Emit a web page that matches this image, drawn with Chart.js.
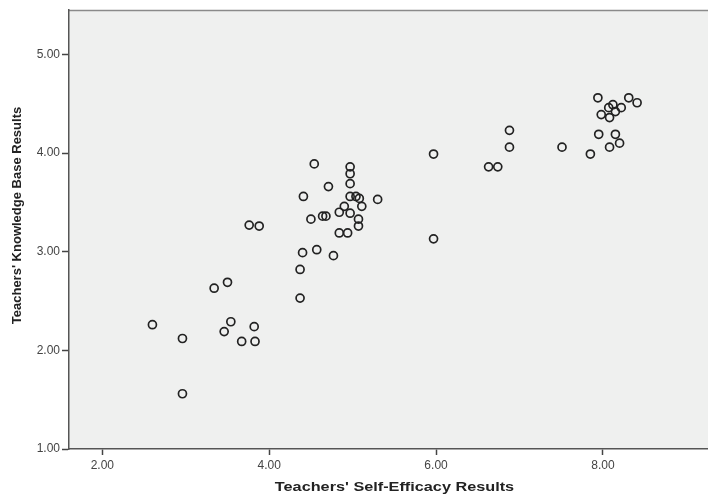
<!DOCTYPE html>
<html>
<head>
<meta charset="utf-8">
<script src="https://cdn.jsdelivr.net/npm/chart.js@4.4.0/dist/chart.umd.min.js"></script>
<style>
  html, body { margin: 0; padding: 0; background: #fff; }
  #wrap { width: 708px; height: 494px; }
</style>
</head>
<body>
<div id="wrap"><canvas id="myChart" width="708" height="494"></canvas></div>
<script>
// values
const selfEfficacy = [2.60, 2.96, 2.96, 3.34, 3.50, 3.54, 3.46, 3.82, 3.67, 3.83,
    4.37, 4.37, 4.40, 4.57, 4.77, 3.76, 3.88, 4.54, 4.97, 4.97,
    4.97, 4.71, 4.41, 4.97, 5.04, 5.08, 5.30, 5.11, 4.90, 4.84,
    4.97, 4.64, 4.68, 4.50, 5.07, 5.07, 4.84, 4.94, 5.97, 5.97,
    6.88, 6.88, 6.63, 6.74, 7.51, 7.85, 7.95, 8.15, 8.08, 8.20,
    7.94, 8.31, 8.41, 8.12, 8.07, 8.22, 8.15, 7.98, 8.08];
const knowledgeBase = [2.26, 2.12, 1.56, 2.63, 2.69, 2.29, 2.19, 2.24, 2.09, 2.09,
    2.53, 2.82, 2.99, 3.02, 2.96, 3.27, 3.26, 3.89, 3.86, 3.79,
    3.69, 3.66, 3.56, 3.56, 3.56, 3.54, 3.53, 3.46, 3.46, 3.40,
    3.39, 3.36, 3.36, 3.33, 3.33, 3.26, 3.19, 3.19, 3.99, 3.13,
    4.23, 4.06, 3.86, 3.86, 4.06, 3.99, 4.19, 4.19, 4.06, 4.10,
    4.56, 4.56, 4.51, 4.49, 4.46, 4.46, 4.42, 4.39, 4.36];
const xTicks = [2, 4, 6, 8];
const yTicks = [1, 2, 3, 4, 5];
const xTitle = "Teachers' Self-Efficacy Results";
const yTitle = "Teachers' Knowledge Base Results";

var pts = selfEfficacy.map((v, i) => ({x: v, y: knowledgeBase[i]}));
const fam = 'Liberation Sans, Arial, sans-serif';

// grey plot area + thin top border
const plotBg = {
    id: 'plotBg',
    beforeDraw(c) {
        const a = c.chartArea, ctx = c.ctx;
        ctx.save();
        ctx.fillStyle = '#eff0ef';
        ctx.fillRect(a.left, a.top, a.right - a.left, a.bottom - a.top);
        ctx.strokeStyle = '#8a8a8a';
        ctx.lineWidth = 1.5;
        ctx.beginPath();
        ctx.moveTo(a.left, a.top + 0.5);
        ctx.lineTo(a.right, a.top + 0.5);
        ctx.stroke();
        ctx.restore();
    }
};

// axis titles (the original export is a bit wide, so stretch x title)
const axisTitles = {
    id: 'axisTitles',
    afterDraw(c) {
        const a = c.chartArea, ctx = c.ctx;
        ctx.save();
        ctx.fillStyle = '#222';
        ctx.font = 'bold 13px ' + fam;
        ctx.textAlign = 'center';
        ctx.textBaseline = 'middle';
        ctx.save();
        ctx.translate((a.left + a.right) / 2 + 6, 487);
        ctx.scale(1.25, 1);
        ctx.fillText(xTitle, 0, 0);
        ctx.restore();
        ctx.translate(17, (a.top + a.bottom) / 2 - 14);
        ctx.rotate(-Math.PI / 2);
        ctx.fillText(yTitle, 0, 0);
        ctx.restore();
    }
};

var chart = new Chart(document.getElementById('myChart').getContext('2d'), {
    type: 'scatter',
    data: {
        datasets: [{
            data: pts,
            pointStyle: 'circle',
            pointRadius: 4,
            pointHoverRadius: 4,
            borderColor: '#222',
            backgroundColor: 'rgba(0,0,0,0)',
            borderWidth: 1.7
        }]
    },
    options: {
        responsive: false,
        animation: false,
        layout: { autoPadding: false, padding: { left: 0, right: 0, top: 10, bottom: 0 } },
        plugins: { legend: { display: false }, tooltip: { enabled: false } },
        scales: {
            x: {
                min: 1.6, max: 9.26,
                afterBuildTicks: s => { s.ticks = xTicks.map(v => ({value: v})); },
                afterFit: s => { s.height = 45; },
                border: { color: '#555', width: 1.5 },
                grid: { drawOnChartArea: false, drawTicks: true, tickLength: 6, color: '#444', tickWidth: 1.5 },
                ticks: {
                    padding: 3,
                    color: '#444',
                    font: { family: fam, size: 12 },
                    callback: v => v.toFixed(2)
                }
            },
            y: {
                min: 1, max: 5.45,
                afterBuildTicks: s => { s.ticks = yTicks.map(v => ({value: v})); },
                afterFit: s => { s.width = 69; },
                border: { color: '#555', width: 1.5 },
                grid: { drawOnChartArea: false, drawTicks: true, tickLength: 7, color: '#444', tickWidth: 1.5 },
                ticks: {
                    padding: 2,
                    color: '#444',
                    font: { family: fam, size: 12 },
                    callback: v => v.toFixed(2)
                }
            }
        }
    },
    plugins: [plotBg, axisTitles]
});
</script>
</body>
</html>
